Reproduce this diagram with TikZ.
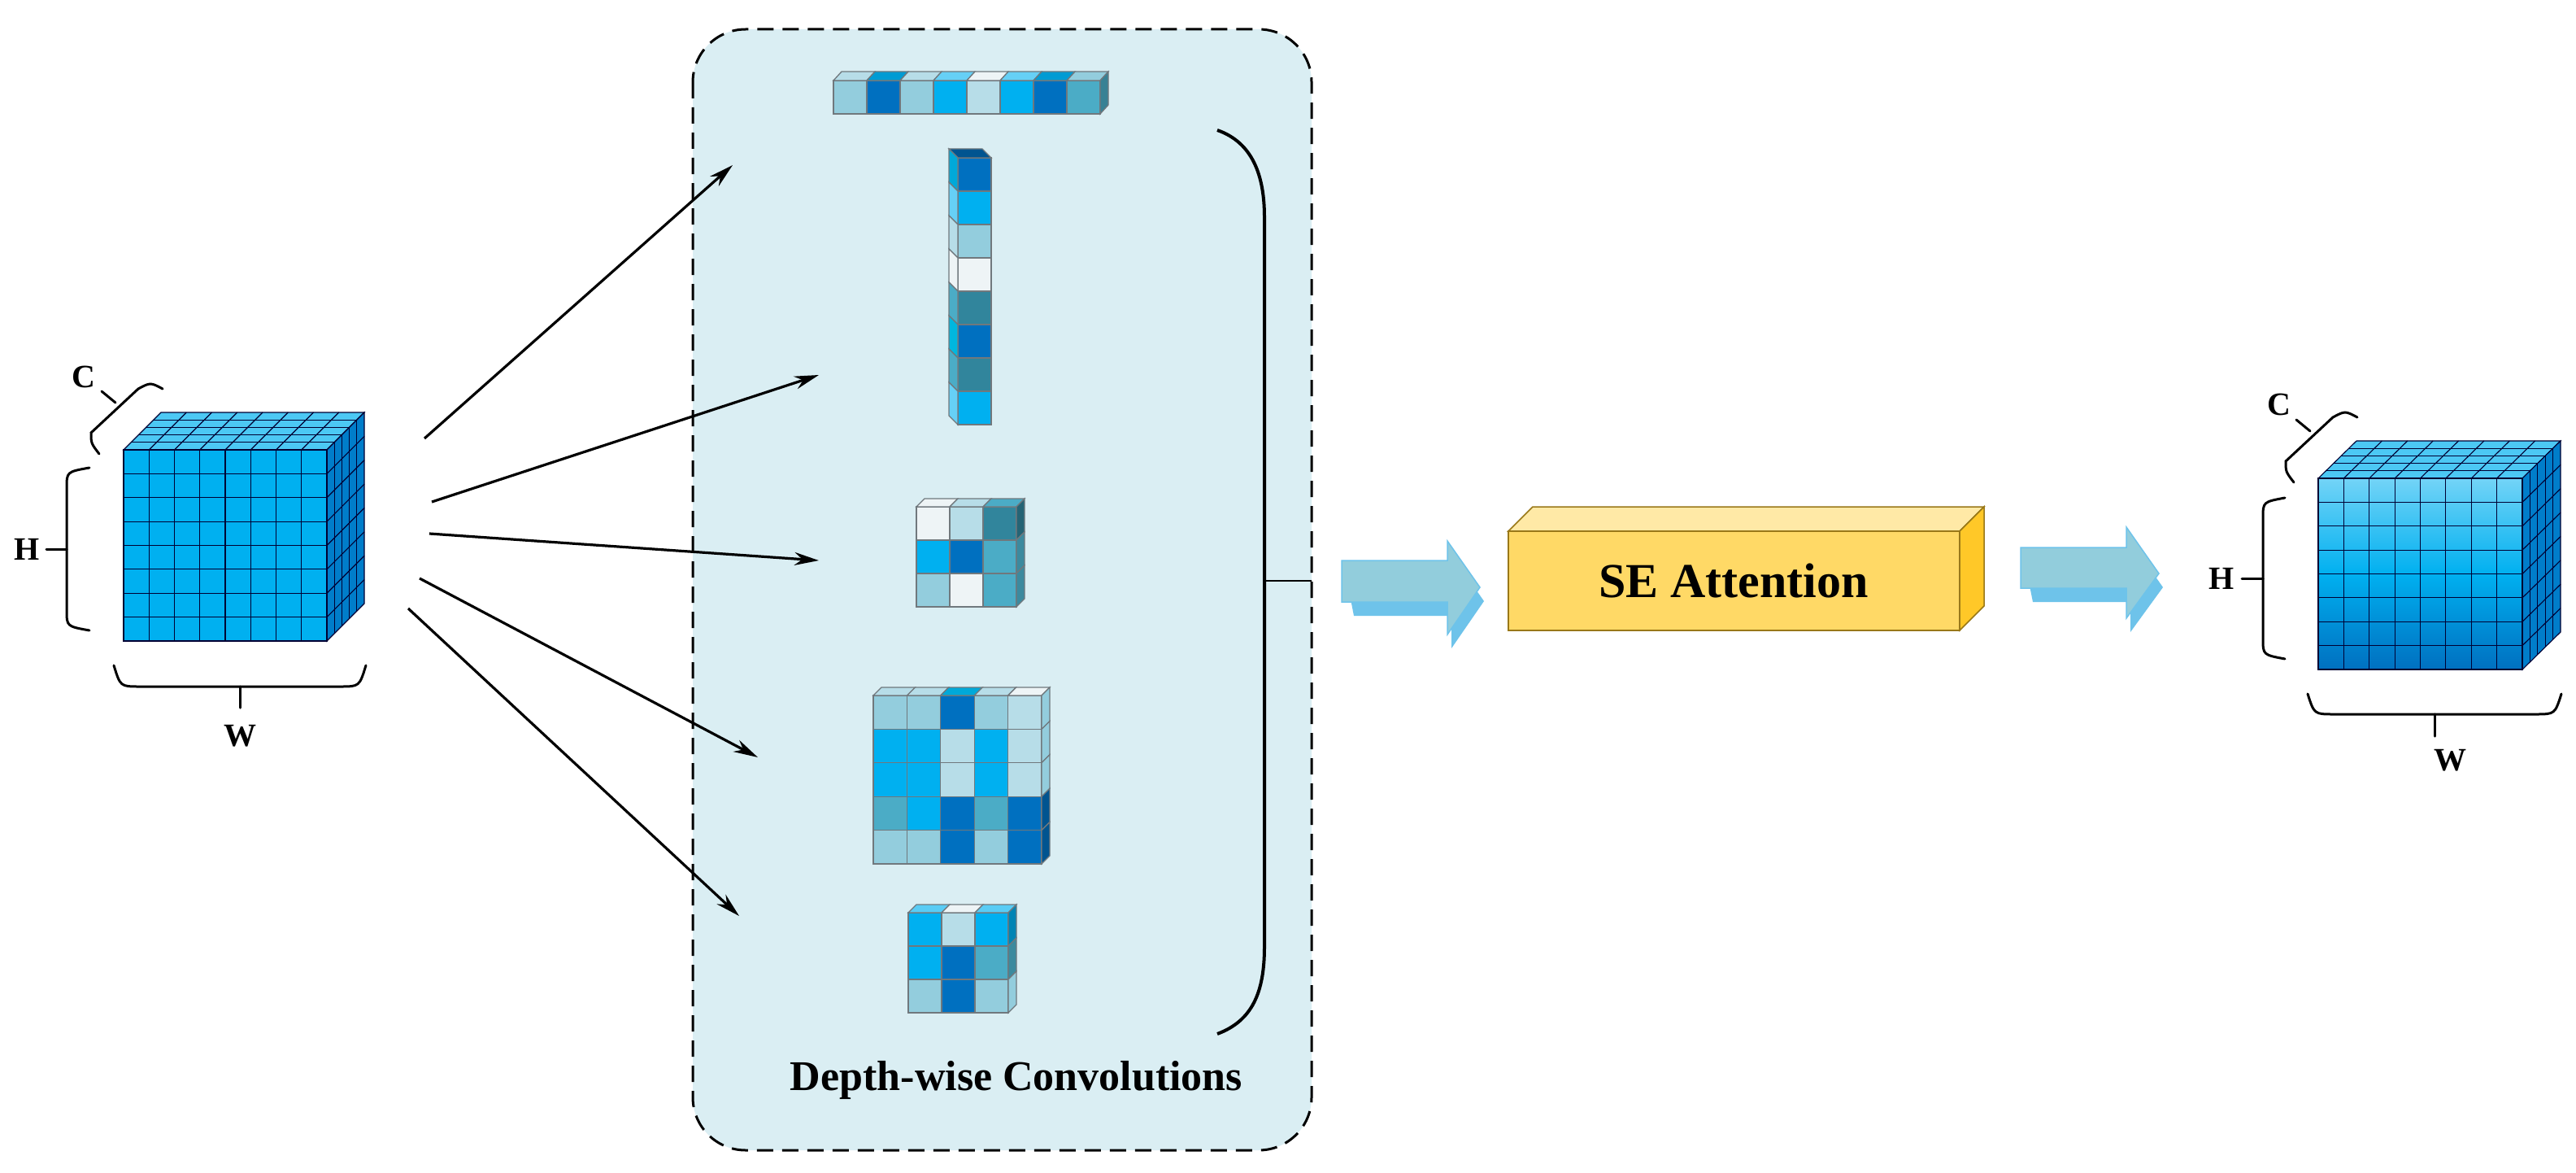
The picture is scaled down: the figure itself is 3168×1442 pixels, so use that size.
\documentclass[tikz,border=0pt]{standalone}
\usepackage{fontspec}
\setmainfont{Liberation Serif}
\usetikzlibrary{arrows.meta}
\definecolor{cA}{HTML}{93CDDD}
\definecolor{cB}{HTML}{0070C0}
\definecolor{cC}{HTML}{00B0F0}
\definecolor{cD}{HTML}{B7DDE8}
\definecolor{cE}{HTML}{4BACC6}
\definecolor{cF}{HTML}{31859C}
\definecolor{cW}{HTML}{EEF4F6}
\definecolor{boxbg}{HTML}{DAEEF3}
\definecolor{arrf}{HTML}{92CDDC}
\definecolor{arrs}{HTML}{6EC3EA}
\definecolor{seF}{HTML}{FFD966}
\definecolor{seT}{HTML}{FFE9A6}
\definecolor{seS}{HTML}{FFC828}
\tikzset{
  cell/.style={draw=black!70!cyan!40!gray, line width=1.3pt},
  grid/.style={draw=black!80!blue, line width=1.1pt},
  brace/.style={draw=black, line width=3pt, line cap=round},
  conv/.style={draw=black, line width=3.2pt, -{Stealth[length=30pt,width=16pt]}},
  lbl/.style={font=\fontsize{40}{40}\selectfont\bfseries, inner sep=0pt},
}
% kernel block: #1 x0, #2 y0, #3 cell, #4 dx, #5 dy, #6 rows, #7 top colors, #8 side colors, #9 side x
\newcommand\kblock[9]{%
  \foreach \rw [count=\j from 0] in {#6} {
    \foreach \c [count=\i from 0] in \rw {
      \path[cell, fill=\c] ({#1+\i*#3},{#2+\j*#3}) rectangle ++(#3,#3);
    }
  }
  \foreach \c [count=\i from 0] in {#7} {
    \path[cell, fill=\c] ({#1+\i*#3},#2) -- ++(#3,0) -- ++(#4,#5) -- ++(-#3,0) -- cycle;
  }
  \foreach \c [count=\j from 0] in {#8} {
    \path[cell, fill=\c] (#9,{#2+\j*#3}) -- ++(#4,#5) -- ++(0,#3) -- ++(-#4,-#5) -- cycle;
  }
}
% grid cube: #1 x0, #2 y0, #3 w, #4 h, #5 dx, #6 dy, #7 front fill style
\newcommand\gcube[7]{%
  \path[grid, fill=cC!70!white] (#1,#2) -- ++(#3,0) -- ++(#5,#6) -- ++(-#3,0) -- cycle;
  \path[grid, fill=cB!80!cC] ({#1+#3},#2) -- ++(#5,#6) -- ++(0,#4) -- ++(-#5,-#6) -- cycle;
  \path[grid, #7] (#1,#2) rectangle ++(#3,#4);
  \foreach \i in {1,...,7} {
    \draw[grid] ({#1+\i*#3/8},#2) -- ++(0,#4);
    \draw[grid] (#1,{#2+\i*#4/8}) -- ++(#3,0);
    \draw[grid] ({#1+\i*#3/8},#2) -- ++(#5,#6);
    \draw[grid] ({#1+#3},{#2+\i*#4/8}) -- ++(#5,#6);
  }
  \foreach \k in {1,...,4} {
    \draw[grid] ({#1+\k*#5/5},{#2+\k*#6/5}) -- ++(#3,0);
    \draw[grid] ({#1+#3+\k*#5/5},{#2+\k*#6/5}) -- ++(0,#4);
  }
}
\begin{document}
\begin{tikzpicture}[x=1pt,y=-1pt]
\useasboundingbox (0,0) rectangle (3168,1442);
\fill[white] (0,0) rectangle (3168,1442);

% dashed box
\path[fill=boxbg, draw=black, line width=3pt, dash pattern=on 20pt off 11pt, rounded corners=65pt]
  (852,36) rectangle (1613,1414);
\node[font=\fontsize{52}{52}\selectfont\bfseries, inner sep=0pt] (dwc) at (1250,1328) {Depth-wise Convolutions};

% input cube
\gcube{152}{553}{250}{235}{46}{-46}{fill=cC}
\node[lbl] (C1) at (103,463) {C};
\node[lbl] (H1) at (33,675) {H};
\node[lbl] (W1) at (295,905) {W};
\draw[brace] (122,558) .. controls (112,545) .. (112,532) -- (170,478) .. controls (185,470) .. (200,478);
\draw[brace] (142,495) -- (125,481);
\draw[brace] (110,575) .. controls (82,580) .. (82,600) -- (82,750) .. controls (82,770) .. (110,775);
\draw[brace] (82,675) -- (57,675);
\draw[brace] (140,818) .. controls (148,844) .. (172,844) -- (418,844) .. controls (442,844) .. (450,818);
\draw[brace] (295,844) -- (295,870);

% kernels
\kblock{1025}{99}{41}{10}{-11}{{cA,cB,cA,cC,cD,cC,cB,cE}}{cD,cB!70!cyan,cD,cC!60!white,cW,cC!60!white,cB!70!cyan,cA}{cE!75!black}{1353}
\kblock{1178}{194}{41}{-11}{-11}{{cB},{cC},{cA},{cW},{cF},{cB},{cF},{cC}}{cB!75!black}{cB!60!cyan,cC!60!white,cD,cW,cE,cB!50!cyan,cE,cC!60!white}{1178}
\kblock{1127}{623}{41}{10}{-10}{{cW,cD,cF},{cC,cB,cE},{cA,cW,cE}}{cW,cD,cE}{cF!75!black,cE!80!black,cE!80!black}{1250}
\kblock{1074}{855}{41.4}{10}{-10}{{cA,cA,cB,cA,cD},{cC,cC,cD,cC,cD},{cC,cC,cD,cC,cD},{cE,cC,cB,cE,cB},{cA,cA,cB,cA,cB}}{cD,cD,cB!60!cyan,cD,cW}{cA,cA,cA,cB!75!black,cB!75!black}{1281}
\kblock{1117}{1122}{41}{10}{-10}{{cC,cD,cC},{cC,cB,cE},{cA,cB,cA}}{cC!65!white,cW,cC!65!white}{cC!75!black,cE!80!black,cA}{1240}

% convolution arrows
\coordinate (s1) at (522,539); \coordinate (e1) at (901,203);
\coordinate (s2) at (531,617); \coordinate (e2) at (1007,461);
\coordinate (s3) at (528,656); \coordinate (e3) at (1007,689);
\coordinate (s4) at (516,711); \coordinate (e4) at (932,931);
\coordinate (s5) at (502,748); \coordinate (e5) at (909,1126);
\foreach \n in {1,...,5} \draw[conv] (s\n) -- (e\n);

% gathering bracket
\coordinate (bt) at (1497,160);
\coordinate (bb) at (1497,1271);
\coordinate (bm) at (1555,714);
\coordinate (bo) at (1613,714);
\draw[black, line width=4pt] (bt) .. controls (1540,175) and (1555,215) .. (1555,267) -- (1555,1164) .. controls (1555,1220) and (1540,1255) .. (bb);
\draw[black, line width=2.5pt] (bm) -- (bo);

% blue arrow 1
\fill[arrs] (1655,706) -- (1785,706) -- (1785,682) -- (1825,739) -- (1785,797) -- (1785,757) -- (1665,757) -- cycle;
\path[fill=arrf, draw=arrs, line width=1.5pt] (1650,689) -- (1780,689) -- (1780,665) -- (1820,722) -- (1780,780) -- (1780,740) -- (1650,740) -- cycle;

% SE box
\path[fill=seT, draw=seS!60!black, line width=1.5pt] (1855,653) -- (1885,623) -- (2440,623) -- (2410,653) -- cycle;
\path[fill=seS, draw=seS!60!black, line width=1.5pt] (2410,653) -- (2440,623) -- (2440,745) -- (2410,775) -- cycle;
\path[fill=seF, draw=seS!60!black, line width=1.5pt] (1855,653) rectangle (2410,775);
\node[font=\fontsize{60}{60}\selectfont\bfseries, inner sep=0pt] (se) at (2132,714) {SE Attention};

% blue arrow 2
\fill[arrs] (2490,690) -- (2620,690) -- (2620,665) -- (2660,722) -- (2620,777) -- (2620,740) -- (2500,740) -- cycle;
\path[fill=arrf, draw=arrs, line width=1.5pt] (2485,673) -- (2615,673) -- (2615,648) -- (2655,705) -- (2615,760) -- (2615,723) -- (2485,723) -- cycle;

% output cube
\gcube{2851}{588}{251}{235}{47}{-46}{top color=cC!55!white, bottom color=cB, middle color=cC}
\node[lbl] (C2) at (2803,497) {C};
\node[lbl] (H2) at (2732,711) {H};
\node[lbl] (W2) at (3013,935) {W};
\draw[brace] (2821,593) .. controls (2811,580) .. (2811,567) -- (2869,513) .. controls (2884,505) .. (2899,513);
\draw[brace] (2841,530) -- (2824,516);
\draw[brace] (2810,612) .. controls (2783,617) .. (2783,637) -- (2783,785) .. controls (2783,805) .. (2810,810);
\draw[brace] (2783,711) -- (2757,711);
\draw[brace] (2838,853) .. controls (2846,878) .. (2870,878) -- (3118,878) .. controls (3142,878) .. (3150,853);
\draw[brace] (2994,878) -- (2994,905);
\end{tikzpicture}
\end{document}
